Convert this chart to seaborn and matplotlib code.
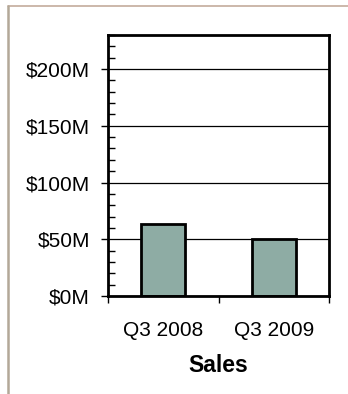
import matplotlib
matplotlib.use("Agg")
import matplotlib.pyplot as plt
from matplotlib.lines import Line2D
from matplotlib.ticker import MultipleLocator, FuncFormatter
import seaborn as sns
import pandas as pd

# Quarterly sales, in millions of dollars
quarters = ["Q3 2008", "Q3 2009"]
sales_musd = [63.5, 50.0]

sns.set_theme(style="white")
plt.rcParams["font.family"] = ["Liberation Sans", "DejaVu Sans"]
plt.rcParams["text.color"] = "black"
plt.rcParams["axes.labelcolor"] = "black"
plt.rcParams["xtick.color"] = "black"
plt.rcParams["ytick.color"] = "black"

df = pd.DataFrame({"quarter": quarters, "sales": sales_musd})

fig = plt.figure(figsize=(3.48, 3.94), dpi=100)
fig.patch.set_facecolor("white")
ax = fig.add_axes([108 / 348, 1 - 296 / 394, 221 / 348, 261 / 394])

sns.barplot(data=df, x="quarter", y="sales", color="#8EACA4", width=0.4,
            edgecolor="black", linewidth=2.0, saturation=1, ax=ax, zorder=3)

ax.set_ylim(0, 230)
ax.set_xlim(-0.5, 1.5)

# Horizontal gridlines at the labelled values
ax.yaxis.set_major_locator(MultipleLocator(50))
ax.yaxis.set_minor_locator(MultipleLocator(10))
ax.yaxis.set_major_formatter(FuncFormatter(lambda v, p: f"${v:.0f}M"))
ax.grid(axis="y", which="major", color="black", linewidth=0.9, zorder=1)
ax.set_axisbelow(True)
ax.tick_params(axis="y", which="major", direction="out", length=5, width=1,
               colors="black", labelsize=15, pad=8, left=True)
ax.tick_params(axis="y", which="minor", direction="in", length=5, width=1,
               colors="black", left=True)

# Category ticks sit between the bars, labels sit under them
ax.set_xticks([-0.5, 0.5, 1.5])
ax.set_xticklabels(["", "", ""])
ax.set_xticks([0, 1], minor=True)
ax.set_xticklabels(quarters, minor=True)
ax.tick_params(axis="x", which="major", direction="out", length=5, width=1,
               colors="black", bottom=True)
ax.tick_params(axis="x", which="minor", length=0, labelsize=15, pad=18,
               colors="black")

ax.set_ylabel("")
ax.set_xlabel("Sales", fontsize=16.5, fontweight="bold", labelpad=10,
              color="black")

for side in ["left", "right", "top", "bottom"]:
    ax.spines[side].set_visible(True)
    ax.spines[side].set_color("black")
    ax.spines[side].set_linewidth(2.0)
    ax.spines[side].set_zorder(4)

# Page frame lines
fig.add_artist(Line2D([8 / 348, 1], [1 - 6 / 394, 1 - 6 / 394],
                      transform=fig.transFigure, color="#C4AC9C", linewidth=1.2))
fig.add_artist(Line2D([8 / 348, 8 / 348], [0, 1 - 6 / 394],
                      transform=fig.transFigure, color="#B3A898", linewidth=1.8))

fig.savefig("out.png", dpi=100, facecolor="white")
